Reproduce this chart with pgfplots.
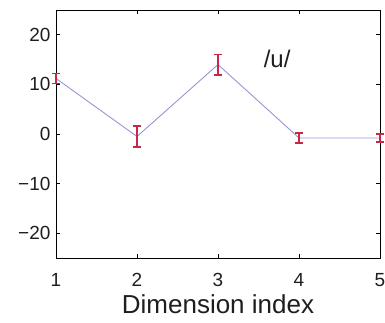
\documentclass[border=0pt]{standalone}
\usepackage{fontspec}
\setmainfont{Liberation Sans}
\usepackage{pgfplots}
\pgfplotsset{compat=1.18}
\definecolor{linec}{RGB}{150,150,215}
\definecolor{errc}{RGB}{200,40,70}
\definecolor{txt}{RGB}{30,30,30}
\begin{document}
\begin{tikzpicture}[x=1pt,y=1pt]
\path[use as bounding box] (0,0) rectangle (385,322);
\begin{axis}[
  at={(56pt,64pt)}, anchor=south west,
  width=324pt, height=248pt, scale only axis,
  xmin=1, xmax=5, ymin=-25, ymax=25,
  xtick={1,2,3,4,5}, ytick={-20,-10,0,10,20},
  yticklabels={−20,−10,0,10,20},
  tick align=inside, major tick length=4pt,
  tick style={black, line width=0.8pt},
  axis line style={black, line width=1pt},
  ticklabel style={font=\fontsize{19}{19}\selectfont, text=txt},
  xticklabel style={yshift=-12pt},
  yticklabel style={xshift=-2pt},
  /pgf/number format/assume math mode=true,
  xlabel={Dimension index},
  xlabel style={font=\fontsize{26}{26}\selectfont, text=txt, inner sep=0pt, yshift=-4pt},
  clip=false,
]
\addplot[color=linec, line width=0.9pt, mark=none,
  error bars/.cd, y dir=both, y explicit,
  error bar style={color=errc, line width=1.2pt},
  error mark options={rotate=90, mark size=4pt, line width=1.2pt, color=errc}]
  coordinates {
  (1,11.2) +- (0,1.0)
  (2,-0.5) +- (0,2.1)
  (3,14.0) +- (0,2.1)
  (4,-0.8) +- (0,1.0)
  (5,-0.8) +- (0,0.8)
  };
\node[font=\fontsize{24}{24}\selectfont, text=txt] at (axis cs:3.73,15.2) {/u/};
\end{axis}
\end{tikzpicture}
\end{document}
